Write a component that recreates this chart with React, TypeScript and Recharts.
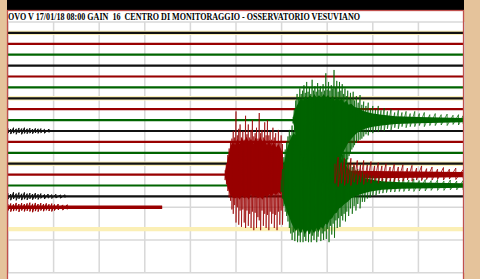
import { Area, CartesianGrid, ComposedChart, Line, XAxis, YAxis } from 'recharts'

const TITLE =
    'OVO V 17/01/18 08:00 GAIN  16  CENTRO DI MONITORAGGIO - OSSERVATORIO VESUVIANO'

// drum rows, 10 minutes each, counted from the top grid line
const TRACE_ROWS = [1, 2, 3, 4, 5, 6, 7, 8, 9, 10, 11, 12, 13, 14, 15, 16, 17]
const TRACE_END = [10, 10, 10, 10, 10, 10, 10, 10, 10, 10, 10, 10, 10, 10, 10, 10, 3.38]
const HOUR_ROWS = [1, 7, 13, 19]
const MINUTE_TICKS = [0, 1, 2, 3, 4, 5, 6, 7, 8, 9, 10]
const ROW_TICKS = Array.from({ length: 24 }, (_, i) => i)

// [minute, swing up, swing down] in row units
const RED_BURST_SPIKES = [
    [4.76, 0.4, 0.5], [4.79, 1.0, 0.9], [4.82, 1.8, 1.5], [4.85, 2.4, 2.1], [4.88, 3.0, 2.4],
    [4.91, 3.3, 3.2], [4.94, 4.0, 3.6], [4.97, 3.4, 2.8], [5.0, 5.8, 4.4], [5.03, 3.6, 3.0],
    [5.06, 4.2, 4.6], [5.09, 4.6, 3.3], [5.12, 3.4, 4.8], [5.15, 4.0, 3.2], [5.18, 3.2, 4.4],
    [5.21, 5.4, 4.9], [5.24, 3.7, 3.3], [5.27, 4.6, 4.7], [5.3, 3.4, 3.6], [5.33, 4.1, 4.9],
    [5.36, 5.0, 3.4], [5.39, 3.5, 5.1], [5.42, 3.8, 3.5], [5.45, 4.3, 4.9], [5.48, 3.3, 3.9],
    [5.51, 5.65, 4.2], [5.54, 3.8, 5.1], [5.57, 4.1, 3.3], [5.6, 3.4, 4.7], [5.63, 4.8, 3.6],
    [5.66, 3.6, 4.9], [5.69, 5.0, 3.7], [5.72, 3.6, 5.1], [5.75, 3.9, 3.4], [5.78, 3.2, 4.5],
    [5.81, 4.3, 3.6], [5.84, 3.4, 4.9], [5.87, 3.8, 3.7], [5.9, 3.0, 5.1], [5.93, 4.1, 3.4],
    [5.96, 3.0, 4.6], [5.99, 3.6, 3.3], [6.02, 2.8, 4.6], [6.05, 0.9, 1.0],
]
const RED_BURST_CORE = [
    [4.76, 0.3, 0.3], [4.8, 1.0, 0.9], [4.84, 1.9, 1.5], [4.88, 2.6, 1.9], [4.93, 3.0, 2.1],
    [4.98, 2.7, 2.2], [5.03, 3.3, 2.0], [5.08, 2.8, 2.3], [5.13, 3.4, 1.9], [5.18, 2.9, 2.2],
    [5.23, 3.5, 2.0], [5.28, 3.0, 2.3], [5.33, 3.3, 1.8], [5.38, 2.8, 2.1], [5.43, 3.4, 1.9],
    [5.48, 2.9, 2.2], [5.53, 3.5, 2.0], [5.58, 3.0, 2.3], [5.63, 3.3, 1.9], [5.68, 2.7, 2.1],
    [5.73, 3.2, 1.8], [5.78, 2.6, 2.0], [5.83, 3.0, 1.7], [5.88, 2.5, 1.9], [5.93, 2.8, 1.6],
    [5.98, 2.4, 1.8], [6.02, 2.0, 1.4], [6.05, 0.5, 0.6],
]
const RED_TAIL_CORE = [[6.05, 0.4, 0.4], [7.5, 0.35, 0.35], [9.98, 0.25, 0.25]]
const RED_TAIL = [
    [7.17, 1.0, 0.8], [7.24, 1.6, 1.1], [7.31, 1.1, 0.8], [7.38, 1.5, 1.0], [7.45, 1.0, 0.8],
    [7.52, 1.5, 1.0], [7.59, 1.0, 0.7], [7.66, 1.3, 0.9], [7.73, 0.9, 0.7], [7.8, 1.3, 0.9],
    [7.88, 0.9, 0.7], [7.96, 1.2, 0.8], [8.04, 0.8, 0.6], [8.12, 1.1, 0.8], [8.2, 0.8, 0.6],
    [8.29, 1.0, 0.7], [8.38, 0.7, 0.6], [8.47, 0.95, 0.65], [8.56, 0.7, 0.55], [8.66, 0.9, 0.6],
    [8.76, 0.6, 0.5], [8.86, 0.85, 0.6], [8.96, 0.6, 0.5], [9.07, 0.8, 0.55], [9.18, 0.55, 0.45],
    [9.3, 0.7, 0.5], [9.42, 0.5, 0.45], [9.55, 0.65, 0.5], [9.68, 0.5, 0.4], [9.82, 0.6, 0.45],
    [9.98, 0.45, 0.35],
]
const GREEN_A_SPIKES = [
    [6.25, 0.3, 0.3], [6.28, 1.0, 1.0], [6.31, 1.8, 1.5], [6.34, 2.4, 1.9], [6.37, 2.1, 2.3],
    [6.4, 2.9, 2.8], [6.43, 2.4, 3.2], [6.46, 2.7, 3.6], [6.49, 3.2, 3.4], [6.52, 2.5, 4.1],
    [6.55, 3.5, 4.4], [6.58, 2.6, 4.6], [6.61, 3.0, 4.3], [6.64, 2.4, 4.9], [6.67, 3.7, 5.0],
    [6.7, 2.7, 5.2], [6.73, 3.1, 5.3], [6.76, 2.6, 5.4], [6.79, 3.4, 5.5], [6.82, 2.8, 5.6],
    [6.85, 3.1, 5.5], [6.88, 2.6, 5.7], [6.91, 3.3, 5.7], [6.94, 2.7, 5.8], [6.97, 4.3, 5.8],
    [7.0, 2.8, 5.7], [7.03, 3.5, 5.8], [7.06, 2.7, 5.7], [7.09, 3.2, 5.8], [7.12, 2.9, 5.7],
    [7.15, 4.6, 5.8], [7.18, 3.0, 5.7], [7.21, 3.6, 5.6], [7.24, 2.6, 5.5], [7.27, 3.5, 5.3],
    [7.3, 2.7, 5.0], [7.33, 3.3, 4.8], [7.36, 2.4, 4.5], [7.39, 2.9, 4.2], [7.42, 2.2, 3.9],
    [7.45, 2.7, 3.6], [7.48, 2.0, 3.3], [7.51, 2.5, 3.0], [7.54, 1.9, 2.7], [7.57, 2.6, 2.5],
    [7.6, 1.8, 2.3], [7.64, 2.2, 2.1], [7.68, 1.6, 1.9], [7.72, 2.3, 1.8], [7.76, 1.4, 1.7],
    [7.8, 1.7, 1.5], [7.85, 1.3, 1.3], [7.9, 1.6, 1.4], [7.95, 1.1, 1.1], [8.0, 1.3, 1.2],
    [8.06, 1.0, 1.0], [8.12, 1.3, 1.1], [8.18, 0.9, 0.9], [8.25, 1.1, 1.0], [8.32, 0.8, 0.8],
    [8.4, 1.0, 0.9], [8.48, 0.7, 0.7], [8.56, 0.9, 0.8], [8.64, 0.7, 0.6], [8.73, 0.8, 0.7],
    [8.82, 0.6, 0.6], [8.92, 0.8, 0.6], [9.02, 0.6, 0.5], [9.13, 0.7, 0.6], [9.25, 0.5, 0.5],
    [9.37, 0.6, 0.5], [9.5, 0.5, 0.45], [9.63, 0.55, 0.5], [9.76, 0.45, 0.4], [9.88, 0.5, 0.45],
    [9.98, 0.4, 0.35],
]
const GREEN_A_CORE = [
    [6.25, 0.2, 0.2], [6.29, 0.8, 0.8], [6.33, 1.3, 1.4], [6.37, 1.6, 1.9], [6.42, 2.0, 2.5],
    [6.47, 1.8, 3.2], [6.52, 2.2, 3.8], [6.57, 1.9, 4.3], [6.62, 2.3, 4.7], [6.67, 2.0, 5.0],
    [6.72, 2.4, 5.3], [6.77, 2.0, 5.5], [6.82, 2.3, 5.6], [6.87, 2.0, 5.7], [6.92, 2.4, 5.7],
    [6.97, 2.1, 5.7], [7.02, 2.3, 5.6], [7.07, 1.9, 5.4], [7.12, 2.2, 5.2], [7.17, 1.8, 4.8],
    [7.22, 2.1, 4.3], [7.27, 1.8, 3.8], [7.32, 2.0, 3.3], [7.37, 1.6, 2.8], [7.42, 1.8, 2.4],
    [7.47, 1.4, 2.0], [7.53, 1.5, 1.7], [7.6, 1.2, 1.4], [7.68, 1.1, 1.1], [7.76, 0.9, 0.9],
    [7.86, 0.75, 0.75], [8.0, 0.6, 0.6], [8.2, 0.5, 0.5], [8.5, 0.35, 0.35], [9.0, 0.28, 0.28],
    [9.98, 0.2, 0.2],
]
const GREEN_B_SPIKES = [
    [5.99, 0.5, 0.6], [6.02, 1.5, 1.2], [6.05, 2.6, 1.9], [6.08, 3.3, 2.4], [6.11, 4.0, 2.8],
    [6.14, 4.5, 3.3], [6.17, 5.1, 3.9], [6.2, 4.6, 4.4], [6.23, 5.5, 5.0], [6.26, 4.9, 4.3],
    [6.29, 5.3, 5.1], [6.32, 5.0, 3.8], [6.35, 5.7, 5.2], [6.38, 6.0, 4.6], [6.41, 5.2, 5.2],
    [6.44, 4.8, 4.3], [6.47, 5.6, 5.2], [6.5, 5.1, 4.7], [6.53, 5.5, 5.1], [6.56, 5.0, 4.0],
    [6.59, 5.7, 5.2], [6.62, 6.0, 4.4], [6.65, 5.3, 5.2], [6.68, 5.1, 4.6], [6.71, 5.6, 5.0],
    [6.74, 5.2, 4.2], [6.77, 5.5, 5.2], [6.8, 5.0, 4.7], [6.83, 5.4, 3.9], [6.86, 5.1, 5.1],
    [6.89, 5.5, 4.4], [6.92, 5.0, 5.0], [6.95, 5.3, 4.2], [6.98, 4.8, 4.9], [7.01, 5.2, 4.0],
    [7.04, 4.7, 5.2], [7.07, 4.9, 3.7], [7.1, 4.4, 4.5], [7.13, 4.5, 3.5], [7.16, 4.0, 4.8],
    [7.19, 4.1, 3.2], [7.22, 3.6, 3.9], [7.25, 3.7, 3.0], [7.28, 3.2, 3.8], [7.31, 3.3, 2.8],
    [7.34, 2.8, 3.2], [7.37, 2.9, 2.6], [7.4, 2.4, 3.3], [7.43, 2.5, 2.4], [7.47, 2.0, 2.8],
    [7.51, 2.1, 2.1], [7.55, 1.7, 2.6], [7.59, 1.8, 1.9], [7.63, 1.4, 2.3], [7.67, 1.5, 1.7],
    [7.72, 1.2, 2.1], [7.77, 1.3, 1.5], [7.82, 1.0, 1.5], [7.88, 1.1, 1.2], [7.94, 0.9, 1.1],
    [8.0, 0.9, 0.9], [8.07, 0.7, 0.9], [8.14, 0.85, 0.75], [8.22, 0.6, 0.7], [8.3, 0.75, 0.65],
    [8.39, 0.55, 0.6], [8.48, 0.7, 0.6], [8.58, 0.5, 0.55], [8.68, 0.65, 0.55], [8.79, 0.5, 0.5],
    [8.9, 0.6, 0.55], [9.02, 0.45, 0.5], [9.15, 0.55, 0.5], [9.28, 0.45, 0.45], [9.42, 0.5, 0.45],
    [9.56, 0.4, 0.45], [9.7, 0.5, 0.4], [9.84, 0.4, 0.4], [9.98, 0.45, 0.4],
]
const GREEN_B_CORE = [
    [5.99, 0.3, 0.3], [6.02, 1.2, 1.0], [6.05, 2.0, 1.6], [6.09, 2.8, 2.0], [6.13, 3.5, 2.6],
    [6.17, 4.0, 2.9], [6.21, 4.4, 3.4], [6.26, 4.8, 3.8], [6.31, 4.6, 4.2], [6.36, 5.0, 3.9],
    [6.41, 4.7, 4.4], [6.46, 5.1, 4.0], [6.51, 4.8, 4.5], [6.56, 5.2, 4.1], [6.61, 4.8, 4.5],
    [6.66, 5.1, 4.0], [6.71, 4.7, 4.4], [6.76, 5.0, 3.9], [6.81, 4.6, 4.3], [6.86, 4.9, 3.8],
    [6.91, 4.4, 4.0], [6.96, 4.6, 3.5], [7.01, 4.1, 3.6], [7.06, 4.3, 3.1], [7.11, 3.7, 3.0],
    [7.16, 3.6, 2.6], [7.21, 3.0, 2.5], [7.26, 2.9, 2.1], [7.31, 2.4, 2.0], [7.38, 2.0, 1.7],
    [7.45, 1.6, 1.5], [7.52, 1.3, 1.2], [7.6, 1.1, 1.0], [7.7, 0.9, 0.85], [7.8, 0.7, 0.7],
    [7.95, 0.55, 0.55], [8.2, 0.4, 0.4], [8.6, 0.3, 0.3], [9.98, 0.2, 0.2],
]
const BLACK_10_NOISE = [
    [0, 0.25, 0.2], [0.06, 0.18, 0.28], [0.12, 0.3, 0.2], [0.18, 0.2, 0.3], [0.24, 0.28, 0.18],
    [0.3, 0.22, 0.3], [0.36, 0.3, 0.22], [0.42, 0.2, 0.25], [0.48, 0.26, 0.2], [0.54, 0.18, 0.25],
    [0.6, 0.24, 0.18], [0.66, 0.2, 0.22], [0.72, 0.22, 0.17], [0.8, 0.16, 0.2], [0.9, 0.18, 0.15],
]
const BLACK_16_NOISE = [
    [0, 0.3, 0.25], [0.06, 0.22, 0.35], [0.12, 0.38, 0.24], [0.18, 0.26, 0.36], [0.24, 0.35, 0.22],
    [0.3, 0.24, 0.34], [0.36, 0.36, 0.26], [0.42, 0.25, 0.32], [0.48, 0.3, 0.22], [0.54, 0.22, 0.3],
    [0.6, 0.3, 0.2], [0.66, 0.2, 0.28], [0.72, 0.26, 0.18], [0.8, 0.18, 0.24], [0.88, 0.22, 0.16],
    [0.96, 0.16, 0.2], [1.05, 0.2, 0.15], [1.15, 0.14, 0.16], [1.25, 0.15, 0.12],
]
const RED_17_NOISE = [
    [0, 0.3, 0.3], [0.06, 0.35, 0.4], [0.12, 0.28, 0.35], [0.18, 0.4, 0.3], [0.24, 0.3, 0.42],
    [0.3, 0.38, 0.3], [0.36, 0.3, 0.38], [0.42, 0.36, 0.32], [0.48, 0.42, 0.38], [0.54, 0.32, 0.45],
    [0.6, 0.4, 0.35], [0.66, 0.3, 0.4], [0.72, 0.38, 0.3], [0.78, 0.3, 0.36], [0.84, 0.36, 0.28],
    [0.9, 0.28, 0.34], [0.96, 0.34, 0.38], [1.02, 0.26, 0.3], [1.1, 0.3, 0.24], [1.2, 0.22, 0.26],
    [1.3, 0.24, 0.2],
]

const INK = ['#111111', '#990000', '#006400']
const RED = '#990000'
const GREEN = '#006400'

const around = (row: number, pts: number[][]) =>
    pts.map(([t, up, dn]) => ({ t, v: [row - up, row + dn] }))

// each reading gives one swing up and one swing down at its minute
const swings = (row: number, pts: number[][]) =>
    pts.flatMap(([t, up, dn]) => [
        { t, y: row - up },
        { t, y: row + dn },
    ])

const flat = (row: number, end: number, half: number) => [
    { t: 0, v: [row - half, row + half] },
    { t: end, v: [row - half, row + half] },
]

function Band({ data, color, opacity = 1 }: { data: any[]; color: string; opacity?: number }) {
    return (
        <Area
            type="linear"
            data={data}
            dataKey="v"
            stroke="none"
            fill={color}
            fillOpacity={opacity}
            dot={false}
            activeDot={false}
            isAnimationActive={false}
        />
    )
}

function Trace({ data, color, opacity = 1 }: { data: any[]; color: string; opacity?: number }) {
    return (
        <Line
            type="linear"
            data={data}
            dataKey="y"
            stroke={color}
            strokeOpacity={opacity}
            strokeWidth={1}
            dot={false}
            activeDot={false}
            isAnimationActive={false}
        />
    )
}

export default function App() {
    const bands = HOUR_ROWS.map((r) => flat(r, 10, 0.2))
    const traces = TRACE_ROWS.map((r, i) => ({
        data: flat(r, TRACE_END[i], 0.1),
        color: INK[(r - 1) % 3],
    }))

    return (
        <div
            style={{
                position: 'fixed',
                left: 0,
                top: 0,
                width: 480,
                height: 279,
                background: '#e5c39b',
                overflow: 'hidden',
            }}
        >
            <div style={{ position: 'absolute', left: 7, top: 10, width: 457, height: 269, background: '#fff' }} />
            <div style={{ position: 'absolute', left: 7, top: 0, width: 457, height: 10, background: '#000' }} />
            <svg width={480} height={279} style={{ position: 'absolute', left: 0, top: 0 }}>
                <text
                    x={8}
                    y={19.5}
                    textLength={352}
                    lengthAdjust="spacingAndGlyphs"
                    style={{ whiteSpace: 'pre' }}
                    fontFamily="'Liberation Serif', 'Times New Roman', serif"
                    fontWeight="bold"
                    fontSize={10.5}
                    fill="#000"
                >
                    {TITLE}
                </text>
            </svg>
            <ComposedChart
                width={480}
                height={279}
                margin={{ top: 22, right: 16, bottom: 6.3, left: 8 }}
                style={{ position: 'absolute', left: 0, top: 0 }}
            >
                <CartesianGrid stroke="#d8d8d8" strokeWidth={1.5} />
                <XAxis dataKey="t" type="number" domain={[0, 10]} ticks={MINUTE_TICKS} hide />
                <YAxis type="number" domain={[0, 23]} ticks={ROW_TICKS} reversed hide allowDataOverflow />
                {bands.map((d, i) => (
                    <Band key={`b${i}`} data={d} color="#fbefb5" />
                ))}
                {traces.map((t, i) => (
                    <Band key={`t${i}`} data={t.data} color={t.color} />
                ))}
                <Band data={flat(17, TRACE_END[16], 0.16)} color={RED} />
                <Band data={around(14, RED_BURST_CORE)} color={RED} />
                <Band data={around(14, RED_TAIL_CORE)} color={RED} />
                <Band data={around(15, GREEN_B_CORE)} color={GREEN} />
                <Band data={around(9, GREEN_A_CORE)} color={GREEN} />
                <Trace data={swings(10, BLACK_10_NOISE)} color={INK[0]} />
                <Trace data={swings(16, BLACK_16_NOISE)} color={INK[0]} />
                <Trace data={swings(17, RED_17_NOISE)} color={RED} />
                <Trace data={swings(14, RED_BURST_SPIKES)} color={RED} opacity={0.7} />
                <Trace data={swings(15, GREEN_B_SPIKES)} color={GREEN} opacity={0.7} />
                <Trace data={swings(9, GREEN_A_SPIKES)} color={GREEN} opacity={0.7} />
                <Trace data={swings(14, RED_TAIL)} color={RED} opacity={0.8} />
            </ComposedChart>
            <svg width={480} height={279} style={{ position: 'absolute', left: 0, top: 0, pointerEvents: 'none' }}>
                <rect x={7.5} y={10.5} width={456} height={275} fill="none" stroke="#c0504d" strokeWidth={1.3} />
            </svg>
        </div>
    )
}
